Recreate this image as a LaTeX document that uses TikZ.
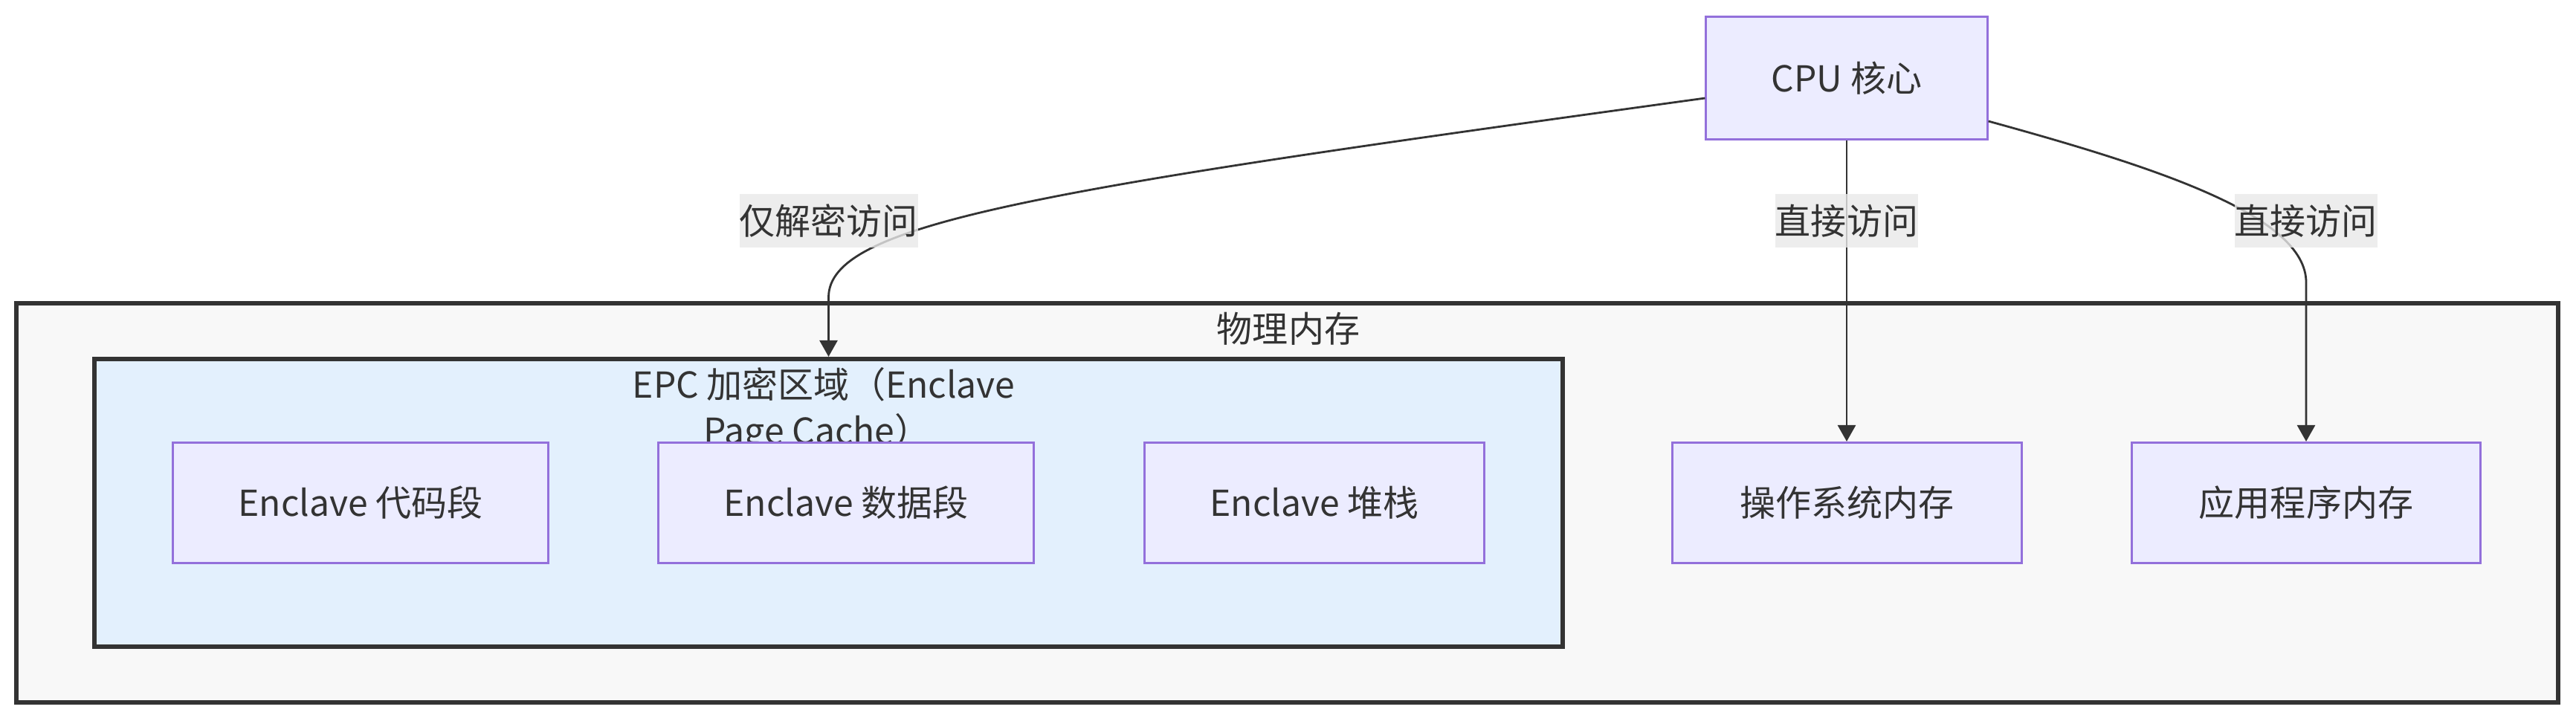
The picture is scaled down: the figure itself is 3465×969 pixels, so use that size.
\documentclass[tikz,border=0pt]{standalone}
\usepackage{fontspec}
\setmainfont{Noto Sans CJK SC}
\usetikzlibrary{arrows.meta}
\definecolor{nodefill}{HTML}{ECECFF}
\definecolor{nodestroke}{HTML}{9370DB}
\definecolor{txt}{HTML}{333333}
\definecolor{outerfill}{HTML}{F8F8F8}
\definecolor{epcfill}{HTML}{E3F0FD}
\definecolor{lblfill}{HTML}{E8E8E8}
\begin{document}
\begin{tikzpicture}[x=0.01cm,y=-0.01cm,
  font=\fontsize{13.66pt}{16pt}\selectfont, text=txt,
  box/.style={draw=nodestroke, fill=nodefill, line width=0.03cm, minimum height=1.62cm, inner sep=0pt, text=txt},
  clus/.style={draw=txt, line width=0.06cm, inner sep=0pt},
  edge/.style={draw=txt, line width=0.028cm, -{Triangle[length=0.22cm,width=0.24cm]}},
  lbl/.style={fill=lblfill, fill opacity=0.8, text opacity=1, inner xsep=0pt, inner ysep=0pt, minimum height=0.72cm, text=txt}]
\useasboundingbox (0,0) rectangle (3465,969);
% clusters
\node[clus, fill=outerfill, minimum width=34.17cm, minimum height=5.37cm] (mem) at (1731.5,676.5) {};
\node[clus, fill=epcfill, minimum width=19.73cm, minimum height=3.865cm] (epc) at (1114.5,676.25) {};
\node (memt) at (1733,442) {物理内存};
\node (epct1) at (1108,517) {EPC 加密区域（Enclave};
\node (epct2) at (1099,583) {Page Cache）};
% nodes
\node[box, minimum width=3.78cm, minimum height=1.64cm] (cpu) at (2484,105) {CPU 核心};
\node[box, minimum width=5.04cm] (code) at (485,676.5) {Enclave 代码段};
\node[box, minimum width=5.04cm] (data) at (1138,676.5) {Enclave 数据段};
\node[box, minimum width=4.56cm] (stack) at (1768,676.5) {Enclave 堆栈};
\node[box, minimum width=4.69cm] (os) at (2484.5,676.5) {操作系统内存};
\node[box, minimum width=4.69cm] (app) at (3102,676.5) {应用程序内存};
% edges
\draw[edge] ([yshift=-0.27cm]cpu.west) .. controls (1400,255) and (1114.5,300) .. (1114.5,400) -- (epc.north);
\draw[edge] (cpu.south) -- (cpu.south |- os.north);
\draw[edge] ([yshift=-0.58cm]cpu.east) .. controls (2900,225) and (3102,290) .. (3102,380) -- (app.north);
% labels
\node[lbl] (l1) at (1114.7,297) {仅解密访问};
\node[lbl] (l2) at (2484,297) {直接访问};
\node[lbl] (l3) at (3101.7,297) {直接访问};
\end{tikzpicture}
\end{document}
